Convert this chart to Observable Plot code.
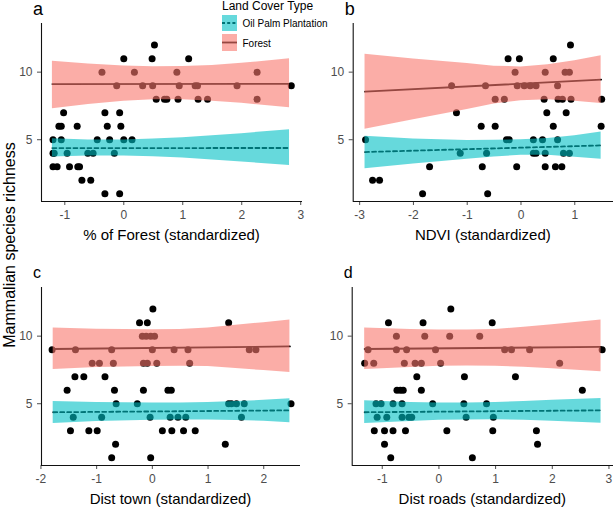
<!DOCTYPE html>
<html><head><meta charset="utf-8">
<script src="https://cdn.jsdelivr.net/npm/d3@7"></script>
<script src="https://cdn.jsdelivr.net/npm/@observablehq/plot@0.6"></script>
<style>
body{margin:0;background:#fff;}
#fig{position:relative;width:615px;height:508px;overflow:hidden;font-family:Arial,"Liberation Sans",sans-serif;background:#fff;}
#fig svg{position:absolute;}
</style></head><body><div id="fig"></div>
<script>
// ---------- data ----------
const seriesNames = ["Oil Palm Plantation", "Forest"];
const yTicks = [5, 10];
const yLabel = "Mammalian species richness";
const panelLetters = ["a", "b", "c", "d"];
const xLabels = ["% of Forest (standardized)", "NDVI (standardized)", "Dist town (standardized)", "Dist roads (standardized)"];
const xTicksA = [-1, 0, 1, 2, 3];
const xTicksB = [-3, -2, -1, 0, 1];
const xTicksC = [-2, -1, 0, 1, 2];
const xTicksD = [-1, 0, 1, 2, 3];

// panel a: % of forest
const aX = [0.52, 0.0,0.48,1.10, -0.37,0.18,0.90,2.26, -0.12,0.32,0.49,0.94,1.21,1.25,1.92,2.84,
  0.55,0.69,0.73,0.92,1.26,1.42,2.26, -1.02,-0.32,-0.07, -1.10,-1.06,-0.79,-0.28,-0.05,
  -1.20,-1.06,-0.45,-0.24,0.0,0.14, -1.20,-1.18,-0.96,-0.61,-0.52,-0.16, -1.20,-1.13,-0.92,-0.78,-0.75,
  -0.71,-0.56, -0.32,-0.07];
const aY = [12, 11,11,11, 10,10,10,10, 9,9,9,9,9,9,9,9, 8,8,8,8,8,8,8, 7,7,7, 6,6,6,6,6,
  5,5,5,5,5,5, 4,4,4,4,4,4, 3,3,3,3,3, 2,2, 1,1];
const aRibX    = [-1.21, -0.6, 0, 0.5, 1.0, 1.5, 2.0, 2.81];
const aForHi   = [10.81, 10.6, 10.45, 10.4, 10.42, 10.5, 10.65, 10.99];
const aForLo   = [7.29, 7.6, 7.85, 7.95, 7.95, 7.85, 7.7, 7.36];
const aPalmHi  = [5.07, 4.98, 4.98, 5.05, 5.15, 5.3, 5.45, 5.74];
const aPalmLo  = [3.72, 3.8, 3.8, 3.75, 3.65, 3.5, 3.35, 3.1];
const aLineX   = [-1.21, 2.81];
const aForLine = [9.12, 9.14];
const aPalmLine= [4.38, 4.39];

// panel b: NDVI
const bX = [0.92, -0.24,-0.03,0.60, -0.11,0.45,0.82,0.90, -1.29,-0.66,-0.07,0.06,0.17,0.28,0.68,
  -0.48,-0.31,0.43,0.69,0.77,0.93,1.50, -1.20,0.48,0.84, -0.74,-0.48,0.60,1.49,
  -2.89,-0.27,-0.22,0.23,0.40,0.68, -1.13,-0.64,0.23,0.28,0.45,0.79,0.90,
  -1.70,-0.72,-0.08,0.45,0.64,0.76, -2.76,-2.63, -1.83,-0.62];
const bY = [12, 11,11,11, 10,10,10,10, 9,9,9,9,9,9,9, 8,8,8,8,8,8,8, 7,7,7, 6,6,6,6,
  5,5,5,5,5,5, 4,4,4,4,4,4,4, 3,3,3,3,3,3, 2,2, 1,1];
const bRibX    = [-2.9, -2, -1, -0.5, 0, 0.5, 1.0, 1.49];
const bForHi   = [11.33, 10.98, 10.64, 10.44, 10.39, 10.55, 10.85, 11.21];
const bForLo   = [5.78, 6.48, 7.24, 7.64, 7.89, 7.95, 7.85, 7.69];
const bPalmHi  = [5.25, 5.05, 4.95, 4.96, 5.0, 5.1, 5.3, 5.57];
const bPalmLo  = [2.86, 3.2, 3.55, 3.72, 3.85, 3.85, 3.7, 3.55];
const bLineX   = [-2.9, 1.49];
const bForLine = [8.56, 9.45];
const bPalmLine= [4.09, 4.58];

// panel c: distance to town
const cX = [0.01, -0.23,-0.09,1.37, -0.18,-0.11,-0.03,0.04, -1.80,-1.38,-0.73,0.0,0.39,0.64,1.74,1.86,
  -1.08,-0.95,-0.70,-0.16,-0.09,0.08,0.67, -1.39,-1.23,-0.85, -1.53,-0.68,-0.16,0.28,0.34,
  -0.65,-0.27,1.37,1.42,1.51,1.65,2.49, -1.42,-0.91,-0.04,0.32,0.46,0.60,1.60,
  -1.47,-1.14,-0.99,0.18,0.35,0.56,0.77, -0.66,1.31, -0.73,-0.03];
const cY = [12, 11,11,11, 10,10,10,10, 9,9,9,9,9,9,9,9, 8,8,8,8,8,8,8, 7,7,7, 6,6,6,6,6,
  5,5,5,5,5,5,5, 4,4,4,4,4,4,4, 3,3,3,3,3,3,3, 2,2, 1,1];
const cRibX    = [-1.78, -1, 0, 0.5, 1, 1.5, 2, 2.47];
const cForHi   = [10.61, 10.52, 10.48, 10.5, 10.6, 10.8, 11.0, 11.2];
const cForLo   = [7.54, 7.68, 7.76, 7.78, 7.75, 7.6, 7.45, 7.32];
const cPalmHi  = [5.17, 5.1, 5.05, 5.06, 5.1, 5.17, 5.25, 5.37];
const cPalmLo  = [3.54, 3.68, 3.78, 3.8, 3.8, 3.76, 3.7, 3.6];
const cLineX   = [-1.78, 2.47];
const cForLine = [9.05, 9.24];
const cPalmLine= [4.37, 4.51];

// panel d: distance to roads
const dX = [0.21, -0.89,-0.28,0.94, -0.75,-0.25,0.19,0.72, -1.25,-0.75,-0.57,-0.06,1.16,1.28,1.60,2.88,
  -1.31,-1.15,-0.61,-0.42,-0.31,0.03,2.13, -0.39,0.45,1.35, -0.74,-0.68,-0.63,-0.31,2.53,
  -1.11,-1.02,-0.81,-0.65,-0.11,0.44,0.84, -1.09,-0.92,-0.65,-0.53,-0.48,0.48,0.96,
  -1.14,-0.96,-0.81,-0.59,0.14,0.95,1.72, -0.96,1.74, -0.85,0.59];
const dY = [12, 11,11,11, 10,10,10,10, 9,9,9,9,9,9,9,9, 8,8,8,8,8,8,8, 7,7,7, 6,6,6,6,6,
  5,5,5,5,5,5,5, 4,4,4,4,4,4,4, 3,3,3,3,3,3,3, 2,2, 1,1];
const dRibX    = [-1.31, -0.5, 0, 0.5, 1, 1.5, 2, 2.86];
const dForHi   = [10.61, 10.5, 10.45, 10.45, 10.5, 10.65, 10.85, 11.2];
const dForLo   = [7.54, 7.68, 7.78, 7.8, 7.78, 7.7, 7.58, 7.37];
const dPalmHi  = [5.22, 5.1, 5.05, 5.06, 5.1, 5.17, 5.25, 5.39];
const dPalmLo  = [3.54, 3.68, 3.78, 3.8, 3.82, 3.78, 3.7, 3.56];
const dLineX   = [-1.31, 2.86];
const dForLine = [9.05, 9.2];
const dPalmLine= [4.37, 4.51];

// ---------- style / layout ----------
const FOREST = "#F8766D", PALM = "#00BFC4";
const FONT = "Arial, 'Liberation Sans', sans-serif";
const yDomain = [0.43, 13.6];

const panels = [
  {X:aX, Y:aY, ribX:aRibX, fHi:aForHi, fLo:aForLo, pHi:aPalmHi, pLo:aPalmLo, lx:aLineX, fl:aForLine, pl:aPalmLine,
   ticks:xTicksA, dom:[-1.395, 3.03], left:0, top:0, w:307, h:250, ml:41, mr:5, mt:23, mb:49},
  {X:bX, Y:bY, ribX:bRibX, fHi:bForHi, fLo:bForLo, pHi:bPalmHi, pLo:bPalmLo, lx:bLineX, fl:bForLine, pl:bPalmLine,
   ticks:xTicksB, dom:[-3.12, 1.72], left:307, top:0, w:308, h:250, ml:45.7, mr:2, mt:23, mb:49},
  {X:cX, Y:cY, ribX:cRibX, fHi:cForHi, fLo:cForLo, pHi:cPalmHi, pLo:cPalmLo, lx:cLineX, fl:cForLine, pl:cPalmLine,
   ticks:xTicksC, dom:[-1.99, 2.66], left:0, top:264, w:307, h:244, ml:41, mr:7, mt:23, mb:43},
  {X:dX, Y:dY, ribX:dRibX, fHi:dForHi, fLo:dForLo, pHi:dPalmHi, pLo:dPalmLo, lx:dLineX, fl:dForLine, pl:dPalmLine,
   ticks:xTicksD, dom:[-1.53, 3.08], left:307, top:264, w:308, h:244, ml:44.7, mr:2, mt:23, mb:43}
];

const fig = document.getElementById("fig");

panels.forEach(p => {
  const pts = p.X.map((x, i) => ({x, y: p.Y[i]}));
  const rib = p.ribX.map((x, i) => ({x, fhi: p.fHi[i], flo: p.fLo[i], phi: p.pHi[i], plo: p.pLo[i]}));
  const fLine = p.lx.map((x, i) => ({x, y: p.fl[i]}));
  const pLine = p.lx.map((x, i) => ({x, y: p.pl[i]}));
  const svg = Plot.plot({
    width: p.w, height: p.h,
    marginLeft: p.ml, marginRight: p.mr, marginTop: p.mt, marginBottom: p.mb,
    style: {fontFamily: FONT, fontSize: "12px", color: "#4D4D4D", background: "transparent", overflow: "visible"},
    x: {domain: p.dom, ticks: p.ticks, tickFormat: d => String(d), tickSize: 4, tickPadding: 5, label: null},
    y: {domain: yDomain, ticks: yTicks, tickFormat: d => String(d), tickSize: 4, tickPadding: 5, label: null},
    marks: [
      Plot.dot(pts, {x: "x", y: "y", r: 3.5, fill: "#000", stroke: "none"}),
      Plot.line(fLine, {x: "x", y: "y", stroke: "#000", strokeWidth: 1.8}),
      Plot.line(pLine, {x: "x", y: "y", stroke: "#000", strokeWidth: 1.8, strokeDasharray: "4,3"}),
      Plot.areaY(rib, {x: "x", y1: "flo", y2: "fhi", fill: FOREST, fillOpacity: 0.6}),
      Plot.areaY(rib, {x: "x", y1: "plo", y2: "phi", fill: PALM, fillOpacity: 0.6}),
      Plot.ruleY([yDomain[0]], {stroke: "#111", strokeWidth: 1.1}),
      Plot.ruleX([p.dom[0]], {stroke: "#111", strokeWidth: 1.1})
    ]
  });
  svg.style.left = p.left + "px";
  svg.style.top = p.top + "px";
  fig.appendChild(svg);
});

// ---------- overlay: titles, letters, legend ----------
const ov = d3.select(fig).append("svg")
  .attr("width", 615).attr("height", 508)
  .style("left", "0px").style("top", "0px")
  .style("font-family", FONT);

ov.append("text")
  .attr("transform", "translate(14.5,245) rotate(-90)")
  .attr("text-anchor", "middle").attr("font-size", 16).attr("fill", "#000")
  .text(yLabel);

panels.forEach((p, i) => {
  const cx = p.left + p.ml + (p.w - p.ml - p.mr) / 2;
  const by = p.top + p.h - p.mb + 39;
  ov.append("text").attr("x", cx).attr("y", by)
    .attr("text-anchor", "middle").attr("font-size", 15).attr("fill", "#000")
    .text(xLabels[i]);
  const top = i < 2;
  ov.append("text")
    .attr("x", p.left + p.ml - 8)
    .attr("y", top ? 15 : p.top + 14)
    .attr("font-size", top ? 18 : 16).attr("fill", "#000")
    .text(panelLetters[i]);
});

// legend
const lg = ov.append("g");
lg.append("text").attr("x", 222).attr("y", 10).attr("font-size", 12).attr("fill", "#000").text("Land Cover Type");
const keys = [
  {name: seriesNames[0], fill: PALM, dash: "3,2.2", y: 15, h: 16},
  {name: seriesNames[1], fill: FOREST, dash: null, y: 34, h: 17}
];
keys.forEach(k => {
  const ln = lg.append("line").attr("x1", 222).attr("x2", 237)
    .attr("y1", k.y + k.h / 2).attr("y2", k.y + k.h / 2)
    .attr("stroke", "#000").attr("stroke-width", 1.8);
  if (k.dash) ln.attr("stroke-dasharray", k.dash);
  lg.append("rect").attr("x", 222).attr("y", k.y).attr("width", 15).attr("height", k.h)
    .attr("fill", k.fill).attr("fill-opacity", 0.6);
  lg.append("text").attr("x", 242.5).attr("y", k.y + k.h / 2 + 4).attr("font-size", 10).attr("fill", "#000").text(k.name);
});
</script></body></html>
